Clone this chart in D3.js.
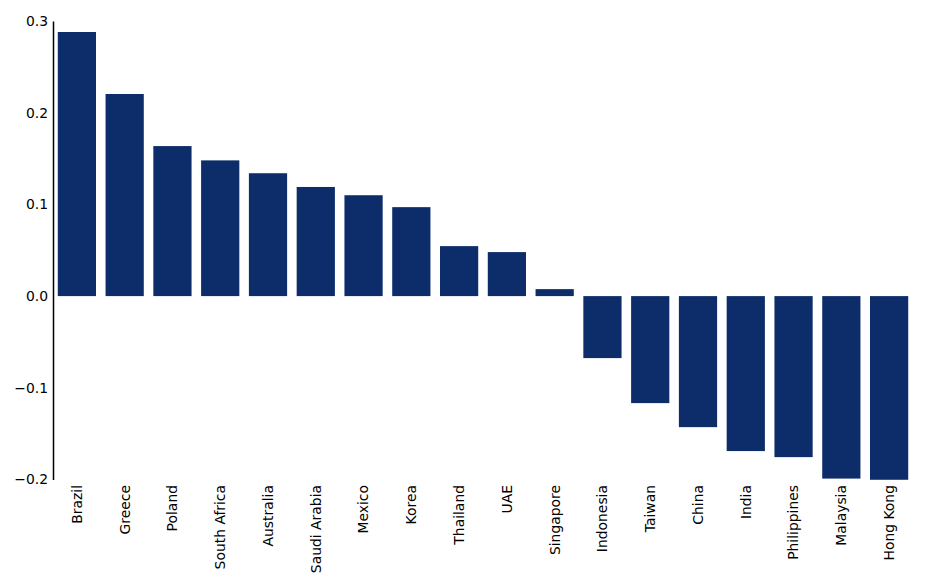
<!DOCTYPE html>
<html><head><meta charset="utf-8">
<script src="https://cdn.jsdelivr.net/npm/d3@7"></script>
<style>body{margin:0;background:#fff}svg{display:block}svg text{font-family:"DejaVu Sans",sans-serif !important;font-size:13.9px !important}</style>
</head><body><svg id="c" width="927" height="588"></svg>
<script>
const categories = ["Brazil","Greece","Poland","South Africa","Australia","Saudi Arabia","Mexico","Korea","Thailand","UAE","Singapore","Indonesia","Taiwan","China","India","Philippines","Malaysia","Hong Kong"];
const values = [0.288,0.2204,0.1636,0.148,0.134,0.119,0.110,0.097,0.0545,0.048,0.0076,-0.0676,-0.1167,-0.1429,-0.169,-0.1756,-0.1990,-0.2003];
const yTicks = [-0.2,-0.1,0.0,0.1,0.2,0.3];

const svg = d3.select("#c");
const x = d3.scaleBand().domain(categories).range([53,913]).paddingInner(0.2).paddingOuter(0.1);
const y = d3.scaleLinear().domain([-0.2,0.3]).range([479.5,21]);

svg.selectAll("rect.bar").data(values).join("rect").attr("class","bar")
  .attr("x",(d,i)=>x(categories[i]))
  .attr("width",x.bandwidth())
  .attr("y",d=>y(Math.max(0,d)))
  .attr("height",d=>Math.abs(y(d)-y(0)))
  .attr("fill","#0c2d69");

const yAxis = d3.axisLeft(y).tickValues(yTicks).tickSize(0).tickPadding(5)
  .tickFormat(d=>d3.format(".1f")(d).replace("-","\u2212"));
const gy = svg.append("g").attr("transform","translate(53,0)").call(yAxis);
gy.attr("font-family",null).attr("font-size",null);
gy.select(".domain").attr("stroke","#000").attr("stroke-width",1.5);
gy.selectAll("text").attr("fill","#000");

const xAxis = d3.axisBottom(x).tickSize(0).tickPadding(0);
const gx = svg.append("g").attr("transform","translate(0,480)").call(xAxis);
gx.attr("font-family",null).attr("font-size",null);
gx.select(".domain").remove();
gx.selectAll("text").attr("fill","#000")
  .attr("transform","rotate(-90)").attr("text-anchor","end")
  .attr("x",-5).attr("y",0).attr("dy","0.35em");
</script></body></html>
